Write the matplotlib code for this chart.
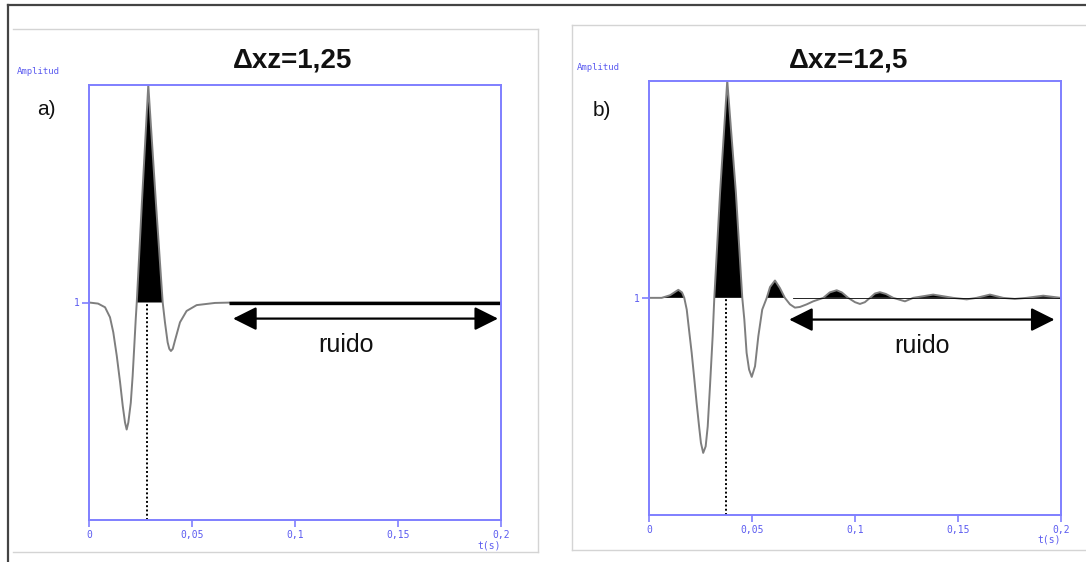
import matplotlib
matplotlib.use("Agg")
import matplotlib.pyplot as plt
from matplotlib.lines import Line2D

# --- data -----------------------------------------------------------------
titles = ["\u0394xz=1,25", "\u0394xz=12,5"]
panel_tags = ["a)", "b)"]
xtick_vals = [0, 0.05, 0.1, 0.15, 0.2]
xtick_labels = ["0", "0,05", "0,1", "0,15", "0,2"]

# panel a: trace (offset 1)
t_a = [0.0, 0.0044, 0.0078, 0.0102, 0.0118, 0.0135, 0.0151, 0.0164, 0.0175,
       0.0183, 0.0191, 0.0203, 0.0212, 0.0220, 0.0227, 0.0232, 0.0257, 0.0288,
       0.0325, 0.0358, 0.0369, 0.0382, 0.0390, 0.0398, 0.0407, 0.0417, 0.0442,
       0.0474, 0.0523, 0.0612, 0.0700, 0.2]
v_a = [1.0, 0.995, 0.978, 0.932, 0.863, 0.754, 0.633, 0.524, 0.448,
       0.416, 0.448, 0.539, 0.662, 0.80, 0.923, 1.0, 1.46, 2.0,
       1.46, 1.0, 0.909, 0.817, 0.787, 0.777, 0.787, 0.823, 0.909,
       0.961, 0.988, 0.998, 1.0, 1.0]
noise_a = [0.068, 0.2]

# panel b: trace (offset 1)
t_b = [0.0, 0.0060, 0.0101, 0.0141, 0.0159, 0.0170, 0.0182, 0.0193, 0.0206,
       0.0219, 0.0230, 0.0242, 0.0251, 0.0262, 0.0274, 0.0284, 0.0295, 0.0308,
       0.0316, 0.0344, 0.0379, 0.0421, 0.0452, 0.0462, 0.0473, 0.0485, 0.0498,
       0.0514, 0.0530, 0.0549, 0.0571, 0.0587, 0.0611, 0.0635, 0.0659, 0.0684,
       0.0708, 0.0732, 0.0765, 0.0797, 0.0846, 0.0877, 0.0911, 0.0936, 0.0967,
       0.1000, 0.1024, 0.1048, 0.1073, 0.1097, 0.1121, 0.1150, 0.1186, 0.1243,
       0.1283, 0.1380, 0.1477, 0.1543, 0.1591, 0.1656, 0.1720, 0.1777, 0.1834,
       0.1915, 0.2]
v_b = [1.0, 1.0, 1.012, 1.037, 1.025, 1.0, 0.946, 0.854, 0.747,
       0.624, 0.516, 0.408, 0.332, 0.286, 0.316, 0.408, 0.593, 0.823,
       1.0, 1.484, 2.0, 1.484, 1.0, 0.9, 0.747, 0.67, 0.636,
       0.685, 0.823, 0.946, 1.0, 1.05, 1.08, 1.045, 1.0, 0.97,
       0.955, 0.958, 0.97, 0.984, 1.0, 1.025, 1.035, 1.025, 1.0,
       0.98, 0.972, 0.98, 1.0, 1.02, 1.026, 1.018, 1.0, 0.984,
       1.0, 1.015, 1.0, 0.993, 1.0, 1.015, 1.0, 0.995, 1.0,
       1.01, 1.0]

peak_t = [0.0284, 0.0375]          # dotted marker lines
arrow_t = [(0.070, 0.1987), (0.068, 0.197)]
arrow_v = [0.926, 0.90]
ruido_pos = [(0.1248, 0.803), (0.1325, 0.776)]

BLUE = "#7f7fff"
BLUE_TXT = "#5c5cf0"
W, H = 1086, 562

fig = plt.figure(figsize=(W / 100, H / 100), dpi=100)
fig.patch.set_facecolor("white")

def fx(px):
    return px / W

def fy(py):
    return 1 - py / H

# outer border and panel frames
fig.add_artist(Line2D([fx(8), fx(8)], [fy(5), fy(562)], color="#444444", lw=1.6))
fig.add_artist(Line2D([fx(8), fx(1086)], [fy(5), fy(5)], color="#444444", lw=1.6))
for xs, ys in [([13, 538], [29, 29]), ([538, 538], [29, 552]), ([13, 538], [552, 552]),
               ([572, 572], [25, 550]), ([572, 1086], [550, 550]), ([572, 1086], [25, 25])]:
    fig.add_artist(Line2D([fx(x) for x in xs], [fy(y) for y in ys], color="#d4d4d4", lw=1.0))

# axes boxes: (left, top, right, bottom) in pixels
boxes = [(89, 85, 500.7, 520), (649.3, 80.7, 1060.7, 515)]
traces = [(t_a, v_a), (t_b, v_b)]
title_xy = [(293, 67), (849, 67)]
tag_xy = [(46, 115), (602, 116)]

for i in range(2):
    l, t, r, b = boxes[i]
    ax = fig.add_axes([fx(l), fy(b), fx(r - l), (b - t) / H])
    ax.set_xlim(0, 0.2)
    ax.set_ylim(0, 2)
    for s in ax.spines.values():
        s.set_color(BLUE)
        s.set_linewidth(1.4)

    tt, vv = traces[i]
    ax.fill_between(tt, 1, vv, where=[v >= 1 for v in vv], interpolate=True,
                    color="black", lw=0)
    ax.plot(tt, vv, color="#7e7e7e", lw=1.4, solid_joinstyle="round")
    if i == 0:
        ax.plot(noise_a, [1, 1], color="black", lw=2.4, solid_capstyle="butt")
    else:
        ax.plot([0.07, 0.2], [1.0, 1.0], color="black", lw=0.6)

    ax.plot([peak_t[i], peak_t[i]], [0, 1], color="black", lw=1.4, ls=(0, (1, 1.2)))

    a0, a1 = arrow_t[i]
    ax.annotate("", xy=(a1, arrow_v[i]), xytext=(a0, arrow_v[i]),
                arrowprops=dict(arrowstyle="<|-|>,head_length=0.72,head_width=0.36",
                                mutation_scale=20, color="black", lw=1.6,
                                shrinkA=0, shrinkB=0))
    ax.text(ruido_pos[i][0], ruido_pos[i][1], "ruido", ha="center", va="center",
            fontsize=18, family="Liberation Sans", color="#111111")

    ax.set_xticks(xtick_vals)
    ax.set_xticklabels(xtick_labels)
    ax.set_yticks([1])
    ax.set_yticklabels(["1"])
    ax.tick_params(direction="out", length=5, width=1.2, color=BLUE,
                   labelcolor=BLUE_TXT, labelsize=7, pad=2)
    for lab in ax.get_xticklabels() + ax.get_yticklabels():
        lab.set_family("DejaVu Sans Mono")
    ax.annotate("t(s)", xy=(1, 0), xycoords="axes fraction", xytext=(0, -18),
                textcoords="offset points", ha="right", va="center",
                fontsize=7, family="DejaVu Sans Mono", color=BLUE_TXT)

    fig.text(fx(l - 72), fy(t - 13.5), "Amplitud", ha="left", va="center",
             fontsize=6.5, family="DejaVu Sans Mono", color=BLUE_TXT)
    fig.text(fx(title_xy[i][0]), fy(title_xy[i][1]), titles[i], ha="center",
             va="baseline", fontsize=20, fontweight="bold", family="Liberation Sans",
             color="#111111")
    fig.text(fx(tag_xy[i][0]), fy(tag_xy[i][1]), panel_tags[i], ha="center",
             va="baseline", fontsize=15, family="Liberation Sans", color="#111111")

fig.savefig("out.png", dpi=100, facecolor="white")
